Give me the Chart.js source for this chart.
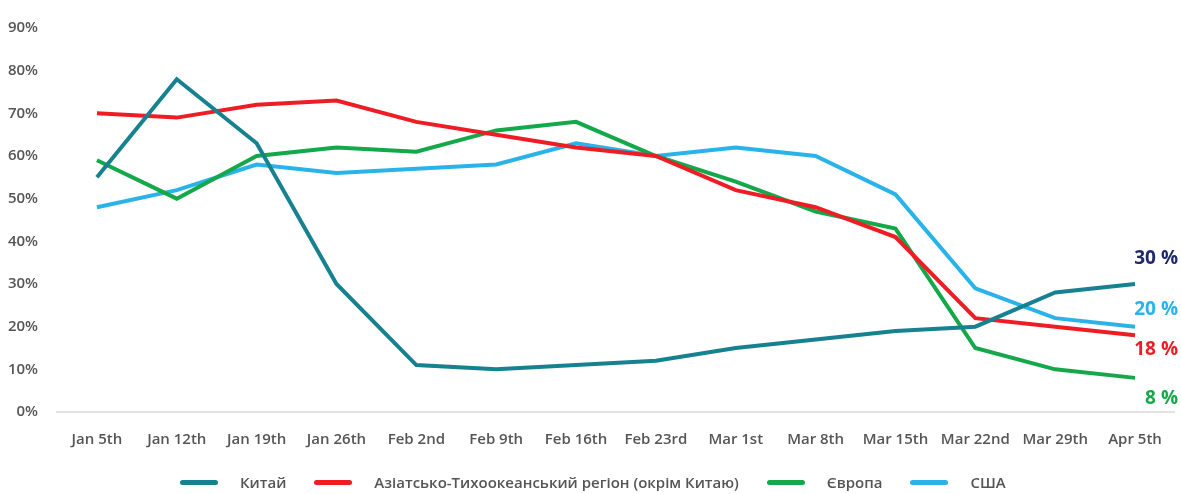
<!DOCTYPE html>
<html>
<head>
<meta charset="utf-8">
<script src="https://cdn.jsdelivr.net/npm/chart.js@4/dist/chart.umd.min.js"></script>
<style>
    html, body { margin: 0; padding: 0; background: #fff; }
    #wrap { position: relative; width: 1181px; height: 494px; }
    #legend {
        position: absolute; left: 180px; top: 471px; height: 22px;
        display: flex; align-items: center;
        font-family: 'Open Sans', sans-serif; font-weight: 600; font-size: 15px; color: #555;
    }
    .item { display: flex; align-items: center; margin-right: 28px; }
    .swatch { width: 38px; height: 5px; border-radius: 3px; margin-right: 22px; }
</style>
</head>
<body>
<div id="wrap">
    <canvas id="chart" width="1181" height="494"></canvas>
    <div id="legend"></div>
</div>
<script>
// тижні
const weeks = ['Jan 5th', 'Jan 12th', 'Jan 19th', 'Jan 26th', 'Feb 2nd', 'Feb 9th', 'Feb 16th',
    'Feb 23rd', 'Mar 1st', 'Mar 8th', 'Mar 15th', 'Mar 22nd', 'Mar 29th', 'Apr 5th'];

const china  = [55, 78, 63, 30, 11, 10, 11, 12, 15, 17, 19, 20, 28, 30];
const apac   = [70, 69, 72, 73, 68, 65, 62, 60, 52, 48, 41, 22, 20, 18];
const europe = [59, 50, 60, 62, 61, 66, 68, 60, 54, 47, 43, 15, 10, 8];
const usa    = [48, 52, 58, 56, 57, 58, 63, 60, 62, 60, 51, 29, 22, 20];

const yTicks = [0, 10, 20, 30, 40, 50, 60, 70, 80, 90];

const series = [
    { label: 'Китай', data: china, color: '#16818f', endColor: '#1f2a6b', dy: -25 },
    { label: 'Азіатсько-Тихоокеанський регіон (окрім Китаю)', data: apac, color: '#ee1d25', endColor: '#ee1d25', dy: 14 },
    { label: 'Європа', data: europe, color: '#14a84a', endColor: '#14a84a', dy: 21 },
    { label: 'США', data: usa, color: '#29b3e9', endColor: '#29b3e9', dy: -17 }
];

const fontFamily = "'Open Sans', sans-serif";

// підписи останніх значень праворуч
const endLabels = {
    id: 'endLabels',
    afterDatasetsDraw(chart) {
        const ctx = chart.ctx;
        ctx.save();
        ctx.font = `700 19px ${fontFamily}`;
        ctx.textAlign = 'right';
        ctx.textBaseline = 'middle';
        chart.data.datasets.forEach((ds, i) => {
            const meta = chart.getDatasetMeta(i);
            const last = meta.data[meta.data.length - 1];
            const s = series[i];
            ctx.fillStyle = s.endColor;
            ctx.fillText(`${ds.data[ds.data.length - 1]} %`, chart.width - 3, last.y + s.dy);
        });
        ctx.restore();
    }
};

const ctx = document.getElementById('chart').getContext('2d');
new Chart(ctx, {
    type: 'line',
    data: {
        labels: weeks,
        datasets: series.map(s => ({
            label: s.label,
            data: s.data,
            borderColor: s.color,
            backgroundColor: s.color,
            borderWidth: 4,
            pointRadius: 0,
            tension: 0,
            fill: false
        }))
    },
    options: {
        responsive: false,
        animation: false,
        layout: { padding: { top: 16, right: 4, bottom: 40, left: 0 } },
        plugins: {
            legend: { display: false },
            tooltip: { enabled: false }
        },
        scales: {
            x: {
                offset: true,
                grid: { display: false, drawTicks: false },
                border: { display: true, color: '#e3e3e3', width: 2 },
                ticks: {
                    color: '#555',
                    padding: 19,
                    maxRotation: 0,
                    autoSkip: false,
                    font: { family: fontFamily, size: 15, weight: '600' }
                },
                afterFit(scale) { scale.height = 42; }
            },
            y: {
                min: 0,
                max: 90,
                afterBuildTicks(scale) { scale.ticks = yTicks.map(v => ({ value: v })); },
                grid: { display: false, drawTicks: false },
                border: { display: false },
                ticks: {
                    color: '#555',
                    padding: 19,
                    font: { family: fontFamily, size: 15, weight: '600' },
                    callback: v => v + '%'
                },
                afterFit(scale) { scale.width = 57; }
            }
        }
    },
    plugins: [endLabels]
});

// легенда
const legendEl = document.getElementById('legend');
series.forEach(s => {
    const item = document.createElement('div');
    item.className = 'item';
    item.innerHTML = `<span class="swatch" style="background:${s.color}"></span><span>${s.label}</span>`;
    legendEl.appendChild(item);
});
</script>
</body>
</html>
